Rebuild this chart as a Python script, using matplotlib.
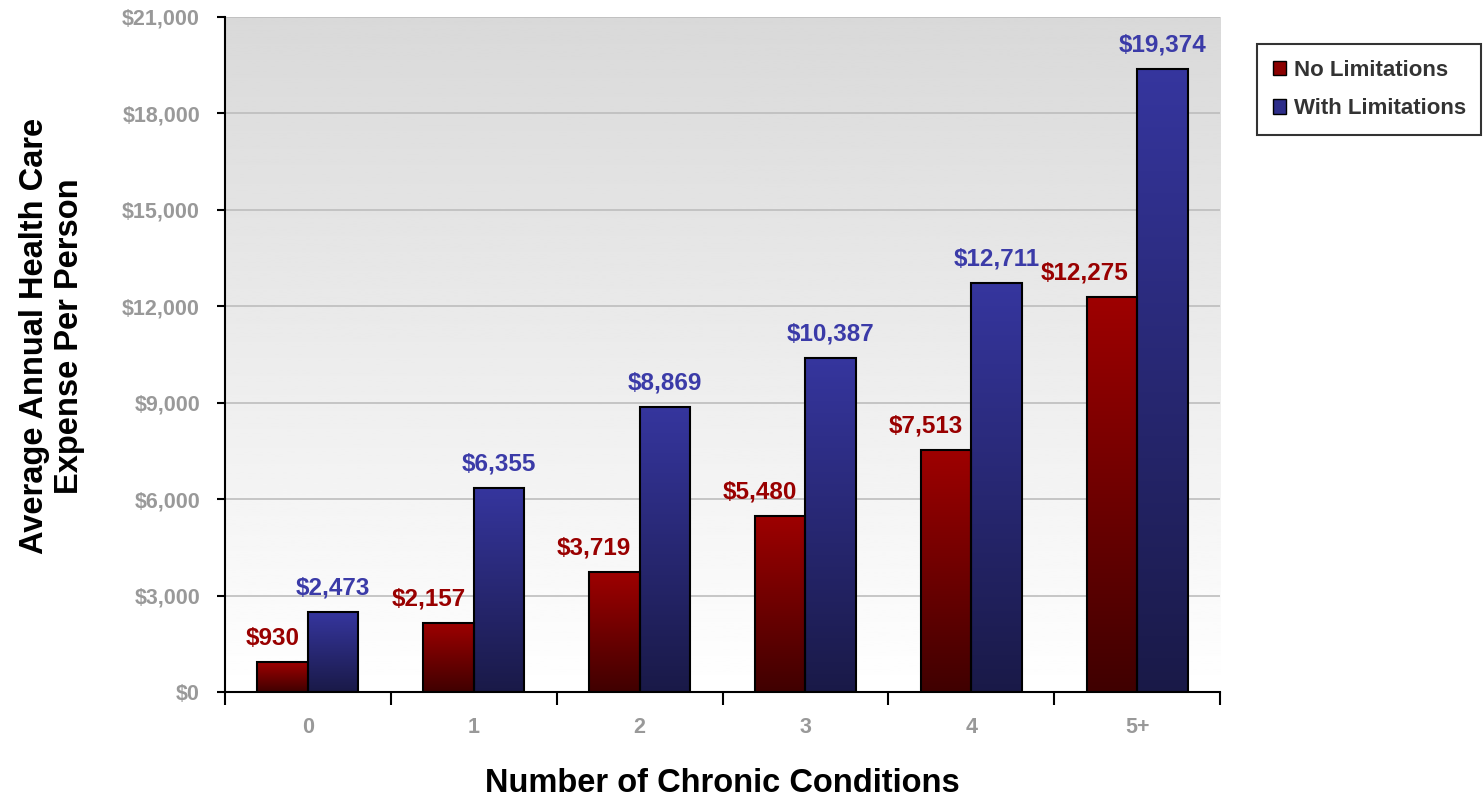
import matplotlib.pyplot as plt
import numpy as np
from matplotlib.patches import Patch

categories = ["0", "1", "2", "3", "4", "5+"]
no_limitations = [930, 2157, 3719, 5480, 7513, 12275]
with_limitations = [2473, 6355, 8869, 10387, 12711, 19374]

plt.rcParams["font.family"] = ["Liberation Sans", "DejaVu Sans"]
plt.rcParams["font.weight"] = "bold"

fig = plt.figure(figsize=(14.83, 8), dpi=100)
ax = fig.add_axes([0.1517, 0.135, 0.6710, 0.844])

x = np.arange(len(categories))
w = 0.305

# background gradient (grey at top, white at bottom)
grad = np.linspace(1.0, 0.85, 256).reshape(-1, 1)
ax.imshow(grad, cmap="gray", vmin=0, vmax=1, aspect="auto",
          extent=[0, 1, 0, 1], transform=ax.transAxes, origin="lower", zorder=0)

ax.yaxis.grid(True, color="#bdbdbd", linewidth=1.2, zorder=1)
ax.set_axisbelow(True)


def gradient_bars(xs, vals, top_col, bot_col):
    bars = ax.bar(xs, vals, w, facecolor="none", edgecolor="black", linewidth=1.5, zorder=3)
    ramp = np.linspace(0, 1, 256).reshape(-1, 1, 1)
    top = np.array(top_col).reshape(1, 1, 3)
    bot = np.array(bot_col).reshape(1, 1, 3)
    img = bot + (top - bot) * ramp
    for b in bars:
        x0, y0 = b.get_x(), b.get_y()
        im = ax.imshow(img, aspect="auto", origin="lower",
                       extent=[x0, x0 + b.get_width(), y0, y0 + b.get_height()], zorder=2)
        im.set_clip_path(b)
    return bars


red_bars = gradient_bars(x - w / 2, no_limitations, (0.62, 0.0, 0.0), (0.25, 0.0, 0.0))
blue_bars = gradient_bars(x + w / 2, with_limitations, (0.21, 0.21, 0.62), (0.10, 0.10, 0.28))
ax.set_xlim(-0.5, len(categories) - 0.5)
ax.set_ylim(0, 21000)

for b, v in zip(red_bars, no_limitations):
    ax.annotate(f"${v:,}", (b.get_x() + b.get_width(), v), xytext=(-6, 9),
                textcoords="offset points", ha="right", va="bottom",
                color="#990000", fontsize=17.5, fontweight="bold")
for b, v in zip(blue_bars, with_limitations):
    ax.annotate(f"${v:,}", (b.get_x() + b.get_width() / 2, v), xytext=(0, 9),
                textcoords="offset points", ha="center", va="bottom",
                color="#3b3ba8", fontsize=17.5, fontweight="bold")

ax.set_yticks(np.arange(0, 21001, 3000))
ax.set_yticklabels([f"${t:,}" for t in range(0, 21001, 3000)])
ax.tick_params(axis="y", direction="out", length=6, width=1.5, colors="black",
               labelcolor="#999999", labelsize=15.5, pad=12)

ax.set_xticks(np.arange(-0.5, len(categories), 1.0))
ax.set_xticklabels([])
ax.set_xticks(x, minor=True)
ax.set_xticklabels(categories, minor=True)
ax.tick_params(axis="x", which="major", direction="out", length=9, width=1.5)
ax.tick_params(axis="x", which="minor", length=0, labelcolor="#999999", labelsize=15.5, pad=18)

for s in ["top", "right"]:
    ax.spines[s].set_visible(False)
for s in ["left", "bottom"]:
    ax.spines[s].set_linewidth(1.5)

ax.set_xlabel("Number of Chronic Conditions", fontsize=23.5, fontweight="bold")
ax.xaxis.set_label_coords(0.5, -0.113)
ax.set_ylabel("Average Annual Health Care\nExpense Per Person", fontsize=23.5,
              fontweight="bold", linespacing=1.15)
ax.yaxis.set_label_coords(-0.141, 0.527)

handles = [Patch(facecolor="#8b0000", edgecolor="black", label="No Limitations"),
           Patch(facecolor="#2e2e8a", edgecolor="black", label="With Limitations")]
leg = fig.legend(handles=handles, loc="upper left", bbox_to_anchor=(1257 / 1483, 1 - 44 / 800),
                 borderaxespad=0, frameon=True, fancybox=False, edgecolor="black", fontsize=16,
                 handlelength=0.6, handleheight=0.6, handletextpad=0.35,
                 labelspacing=0.8, borderpad=0.7, labelcolor="#333333")
leg.get_frame().set_linewidth(1.5)

fig.savefig("out.png", dpi=100)
